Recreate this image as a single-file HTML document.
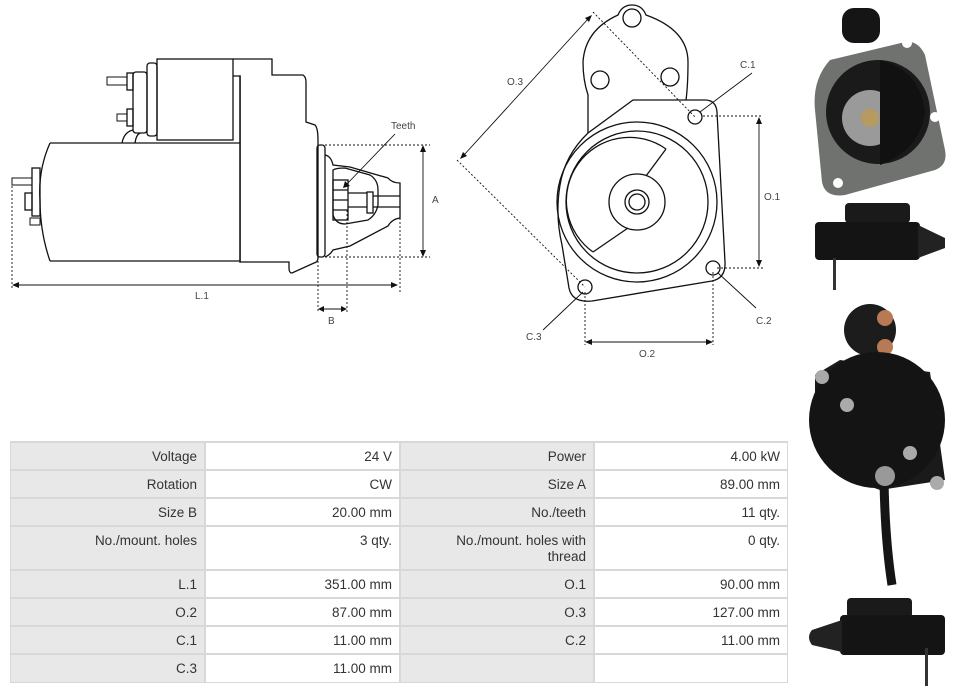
<!DOCTYPE html>
<html><head><meta charset="utf-8"><style>
html,body{margin:0;padding:0;background:#fff;width:957px;height:692px;overflow:hidden;position:relative;font-family:"Liberation Sans",sans-serif}
svg{position:absolute;left:0;top:0}
.c{position:absolute;box-sizing:border-box;font-size:13.5px;color:#333;text-align:right;padding:6px 7px 0 0;line-height:16px}
.g{background:#e8e8e8}
.w{background:#fff}
</style></head><body>
<svg width="957" height="692" viewBox="0 0 957 692" fill="none" stroke="#111" stroke-width="1.3" font-family="Liberation Sans, sans-serif">
<!-- side view -->
<rect x="157" y="59" width="76" height="81"/>
<rect x="147" y="63" width="10" height="73" rx="3"/>
<rect x="133" y="72" width="14" height="61" rx="3"/>
<rect x="127" y="73" width="6" height="17"/><rect x="107" y="77" width="20" height="8" stroke-width="1"/>
<rect x="127" y="109" width="6" height="17"/><rect x="117" y="114" width="10" height="7" stroke-width="1"/>
<path d="M122 143 Q124 132 133 130 M135 143 Q136 135 140 133"/>
<path d="M233 59 H272 V75 H303 Q306 77 306 82 V122 L315 125 Q318 128 318 140 V258 Q318 262 314 263 L292 273 Q289 273 289 268 V262 H240 V76 H233"/>
<path d="M50 143 H240 M50 261 H240 M50 143 Q38 170 40 200 Q40 232 50 261"/>
<rect x="240" y="76" width="0.1" height="186"/>
<rect x="317" y="145" width="8" height="112" rx="3"/>
<path d="M325 155 Q331 156 333 165 L350 167 L388 178 Q392 183 400 183 V218 Q392 219 388 226 L350 246 L333 250 Q330 255 325 257"/>
<path d="M333 170 Q336 168 345 168 L370 175 Q378 180 378 190 V205 Q376 215 368 220 L345 224 Q336 224 333 215 Z"/>
<rect x="333" y="180" width="15" height="40"/>
<path d="M333 190 H348 M333 200 H348 M333 210 H348"/>
<path d="M348 193 H367 M348 207 H367 M373 196 H400 M373 207 H400"/>
<rect x="367" y="192" width="6" height="21"/>
<rect x="32" y="168" width="8" height="48"/><rect x="12" y="178" width="20" height="7" stroke-width="1"/>
<rect x="25" y="193" width="7" height="17"/><rect x="30" y="218" width="10" height="7" stroke-width="1"/>
<g stroke-width="0.9" stroke-dasharray="2,2">
<path d="M325 145 H430 M325 257 H430 M12 186 V290 M400 218 V292 M318 257 V313 M347 210 V313"/>
</g>
<g stroke-width="0.9">
<path d="M423 150 V252 M14 285 H396 M321 309 H344 M395 134 L346 185"/>
</g>
<g fill="#111" stroke="none">
<path d="M423 145 L420 152 L426 152Z M423 257 L420 250 L426 250Z M12 285 L19 282 L19 288Z M398 285 L391 282 L391 288Z M318 309 L324 306 L324 312Z M347 309 L341 306 L341 312Z M343 188 L345 181 L350 186Z"/>
</g>
<!-- front view -->
<path d="M588 133 V95 Q583 80 583 62 Q585 30 618 15 Q622 5 632 5 Q642 5 646 15 Q688 30 688 62 Q688 85 686 100"/>
<circle cx="632" cy="18" r="9"/><circle cx="600" cy="80" r="9"/><circle cx="670" cy="77" r="9"/>
<path d="M633 100 H705 Q716 100 717 112 L725 262 Q726 278 712 281 L592 301 Q572 303 569 288 L562 245 Q555 215 560 185 Q565 155 588 133 Z"/>
<circle cx="637" cy="202" r="80"/><circle cx="637" cy="202" r="71"/>
<path d="M593 252 A55 55 0 1 1 666 149 M666 149 L646 176 M628 228 L593 252"/>
<circle cx="637" cy="202" r="28"/><circle cx="637" cy="202" r="12"/><circle cx="637" cy="202" r="8"/>
<circle cx="695" cy="117" r="7"/><circle cx="713" cy="268" r="7"/><circle cx="585" cy="287" r="7"/>
<g stroke-width="0.9" stroke-dasharray="2,2">
<path d="M703 116 H763 M717 268 H763 M585 292 V345 M713 272 V345 M593 12 L695 117 M457 160 L585 287"/>
</g>
<g stroke-width="0.9">
<path d="M759 122 V262 M589 342 H709 M464 155 L588 19 M752 73 L700 112 M756 308 L718 273 M543 330 L583 292"/>
</g>
<g fill="#111" stroke="none">
<path d="M759 117 L756 124 L762 124Z M759 267 L756 260 L762 260Z M585 342 L592 339 L592 345Z M713 342 L706 339 L706 345Z M460 159 L463 152 L467 156Z M592 15 L589 22 L585 18Z"/>
</g>
<g fill="#444" stroke="none" font-size="10">
<text x="391" y="129">Teeth</text><text x="432" y="203">A</text><text x="195" y="299">L.1</text><text x="328" y="324">B</text>
<text x="507" y="85">O.3</text><text x="740" y="68">C.1</text><text x="764" y="200">O.1</text><text x="756" y="324">C.2</text><text x="526" y="340">C.3</text><text x="639" y="357">O.2</text>
</g>
<!-- photos -->
<g stroke="none">
<path d="M830 60 L905 42 Q918 40 925 55 L945 150 Q948 165 935 170 L845 195 Q825 198 822 182 L815 110 Q812 80 830 60Z" fill="#6f726f"/>
<circle cx="878" cy="112" r="52" fill="#1a1a1a"/>
<circle cx="870" cy="118" r="28" fill="#9a9a9a"/>
<circle cx="870" cy="118" r="9" fill="#b59a62"/>
<path d="M880 60 Q920 70 925 112 Q920 150 880 165 Z" fill="#111"/>
<rect x="842" y="8" width="38" height="35" rx="12" fill="#151515"/>
<circle cx="907" cy="43" r="5" fill="#fff"/><circle cx="935" cy="117" r="5" fill="#fff"/><circle cx="838" cy="183" r="5" fill="#fff"/>
<rect x="845" y="203" width="65" height="20" rx="4" fill="#1a1a1a"/>
<rect x="815" y="222" width="105" height="38" rx="4" fill="#141414"/>
<path d="M918 225 L945 238 L945 248 L918 258Z" fill="#222"/>
<rect x="833" y="258" width="3" height="32" fill="#333"/>
<circle cx="870" cy="330" r="26" fill="#1c1c1c"/>
<circle cx="885" cy="318" r="8" fill="#b87a55"/><circle cx="885" cy="347" r="8" fill="#b87a55"/>
<path d="M815 375 L840 360 L930 372 L945 480 L880 490 Q820 470 815 420Z" fill="#1a1a1a"/>
<circle cx="877" cy="420" r="68" fill="#141414"/>
<path d="M884 480 Q885 540 892 585" stroke="#151515" stroke-width="9" fill="none"/>
<circle cx="822" cy="377" r="7" fill="#aaa"/><circle cx="847" cy="405" r="7" fill="#aaa"/><circle cx="910" cy="453" r="7" fill="#aaa"/><circle cx="885" cy="476" r="10" fill="#999"/><circle cx="937" cy="483" r="7" fill="#aaa"/>
<rect x="847" y="598" width="65" height="20" rx="4" fill="#1a1a1a"/>
<rect x="840" y="615" width="105" height="40" rx="4" fill="#141414"/>
<path d="M842 620 L812 630 Q806 637 812 645 L842 652Z" fill="#222"/>
<rect x="925" y="648" width="3" height="38" fill="#333"/>
</g>
</svg>
<div style="position:absolute;left:10px;top:441px;width:778px;height:242px;background:#d8d8d8"></div>
<div class="c g" style="left:11px;top:443px;width:193px;height:26px">Voltage</div>
<div class="c w" style="left:206px;top:443px;width:193px;height:26px">24 V</div>
<div class="c g" style="left:401px;top:443px;width:192px;height:26px">Power</div>
<div class="c w" style="left:595px;top:443px;width:192px;height:26px">4.00 kW</div>
<div class="c g" style="left:11px;top:471px;width:193px;height:26px">Rotation</div>
<div class="c w" style="left:206px;top:471px;width:193px;height:26px">CW</div>
<div class="c g" style="left:401px;top:471px;width:192px;height:26px">Size A</div>
<div class="c w" style="left:595px;top:471px;width:192px;height:26px">89.00 mm</div>
<div class="c g" style="left:11px;top:499px;width:193px;height:26px">Size B</div>
<div class="c w" style="left:206px;top:499px;width:193px;height:26px">20.00 mm</div>
<div class="c g" style="left:401px;top:499px;width:192px;height:26px">No./teeth</div>
<div class="c w" style="left:595px;top:499px;width:192px;height:26px">11 qty.</div>
<div class="c g" style="left:11px;top:527px;width:193px;height:42px">No./mount. holes</div>
<div class="c w" style="left:206px;top:527px;width:193px;height:42px">3 qty.</div>
<div class="c g" style="left:401px;top:527px;width:192px;height:42px">No./mount. holes with<br>thread</div>
<div class="c w" style="left:595px;top:527px;width:192px;height:42px">0 qty.</div>
<div class="c g" style="left:11px;top:571px;width:193px;height:26px">L.1</div>
<div class="c w" style="left:206px;top:571px;width:193px;height:26px">351.00 mm</div>
<div class="c g" style="left:401px;top:571px;width:192px;height:26px">O.1</div>
<div class="c w" style="left:595px;top:571px;width:192px;height:26px">90.00 mm</div>
<div class="c g" style="left:11px;top:599px;width:193px;height:26px">O.2</div>
<div class="c w" style="left:206px;top:599px;width:193px;height:26px">87.00 mm</div>
<div class="c g" style="left:401px;top:599px;width:192px;height:26px">O.3</div>
<div class="c w" style="left:595px;top:599px;width:192px;height:26px">127.00 mm</div>
<div class="c g" style="left:11px;top:627px;width:193px;height:26px">C.1</div>
<div class="c w" style="left:206px;top:627px;width:193px;height:26px">11.00 mm</div>
<div class="c g" style="left:401px;top:627px;width:192px;height:26px">C.2</div>
<div class="c w" style="left:595px;top:627px;width:192px;height:26px">11.00 mm</div>
<div class="c g" style="left:11px;top:655px;width:193px;height:27px">C.3</div>
<div class="c w" style="left:206px;top:655px;width:193px;height:27px">11.00 mm</div>
<div class="c g" style="left:401px;top:655px;width:192px;height:27px"></div>
<div class="c w" style="left:595px;top:655px;width:192px;height:27px"></div>
</body></html>
